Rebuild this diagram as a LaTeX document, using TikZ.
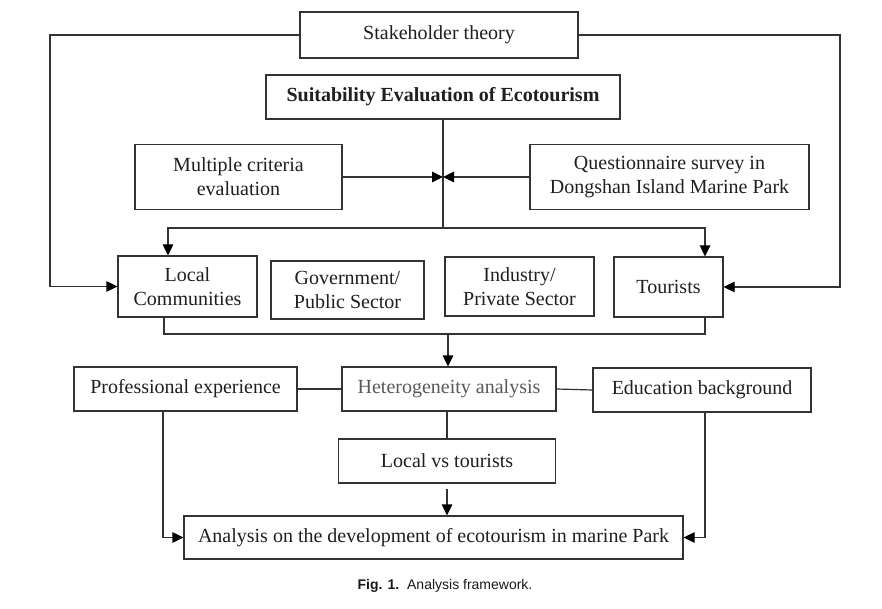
\documentclass[tikz,border=0pt]{standalone}
\usepackage{fontspec}
\setmainfont{Liberation Serif}
\newfontfamily\capfont{Liberation Sans}
\usetikzlibrary{arrows.meta}
\begin{document}
\begin{tikzpicture}[x=1pt,y=-1pt,
 box/.style={draw=black!80, line width=1.2pt, inner sep=0pt, align=center, text=black!88, font=\fontsize{20}{24}\selectfont},
 ln/.style={draw=black!80, line width=1.2pt},
 arr/.style={ln, -{Triangle[length=11pt,width=10.5pt,fill=black,color=black]}}]
\useasboundingbox (0,0) rectangle (882,609);
\fill[white] (0,0) rectangle (882,609);
% nodes
\node[box, minimum width=278pt, minimum height=46pt] (st) at (439,35) {Stakeholder theory};
\node[box, minimum width=354pt, minimum height=44pt, font=\fontsize{20}{24}\selectfont\bfseries] (se) at (443,97) {Suitability Evaluation of Ecotourism};
\node[box, minimum width=207pt, minimum height=65pt] (mc) at (238.5,177) {Multiple criteria\\evaluation};
\node[box, minimum width=279pt, minimum height=65pt] (qs) at (669.5,177) {Questionnaire survey in\\Dongshan Island Marine Park};
\node[box, minimum width=139pt, minimum height=61pt] (lc) at (187.5,286.5) {Local\\Communities};
\node[box, minimum width=153pt, minimum height=58pt] (gov) at (347.5,290) {Government/\\Public Sector};
\node[box, minimum width=149pt, minimum height=59pt] (ind) at (519.5,286.5) {Industry/\\Private Sector};
\node[box, minimum width=109pt, minimum height=60pt] (tou) at (668.5,287) {Tourists};
\node[box, minimum width=223pt, minimum height=44pt] (pe) at (185.5,389) {Professional experience};
\node[box, minimum width=214pt, minimum height=44pt, text=black!65] (ha) at (449,389) {Heterogeneity analysis};
\node[box, minimum width=218pt, minimum height=44pt] (eb) at (702,390) {Education background};
\node[box, minimum width=217pt, minimum height=44pt] (lvt) at (447,461) {Local vs tourists};
\node[box, minimum width=499pt, minimum height=43pt] (an) at (433.5,537.5) {Analysis on the development of ecotourism in marine Park};
\node[font=\capfont\fontsize{14}{16}\selectfont, text=black!90, inner sep=0pt] (cap) at (445,586) {\textbf{Fig. 1.}\ \ Analysis framework.};
% coordinates
\coordinate (lft) at (50,0);
\coordinate (rgt) at (840,0);
\coordinate (br) at (443,228);
\coordinate (mg) at (448,334);
% connectors
\draw[arr] (st.west) -- (st.west -| lft) |- (lc.west);
\draw[arr] (st.east) -- (st.east -| rgt) |- (tou.east);
\draw[ln] (se.south) -- (br);
\draw[arr] (mc.east) -- (mc.east -| se.south);
\draw[arr] (qs.west) -- (qs.west -| se.south);
\draw[arr] (br) -| ([xshift=-19.5pt]lc.north);
\draw[arr] (br) -| ([xshift=36.5pt]tou.north);
\draw[ln] ([xshift=-23.5pt]lc.south) |- (mg) -| ([xshift=36.5pt]tou.south);
\draw[arr] (mg) -- (mg |- ha.north);
\draw[ln] (pe.east) -- (ha.west);
\draw[ln] (ha.east) -- (eb.west);
\draw[ln] (ha.south -| lvt.north) -- (lvt.north);
\draw[arr, shorten <=5pt] (lvt.south) -- (an.north -| lvt.south);
\draw[arr] ([xshift=-22.5pt]pe.south) |- (an.west);
\draw[arr] ([xshift=3pt]eb.south) |- (an.east);
\end{tikzpicture}
\end{document}
